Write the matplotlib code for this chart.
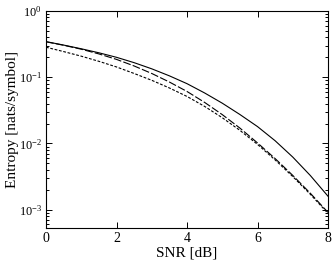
import matplotlib
matplotlib.use("Agg")
import matplotlib.pyplot as plt
from matplotlib.ticker import LogLocator, NullFormatter

snr_db = [0, 0.5, 1, 1.5, 2, 2.5, 3, 3.5, 4, 4.5, 5, 5.5, 6, 6.5, 7, 7.5, 8]
entropy_solid = [0.345, 0.306, 0.269, 0.234, 0.200, 0.166, 0.134, 0.105, 0.080,
                 0.0579, 0.0406, 0.0274, 0.0180, 0.0110, 0.00624, 0.00328, 0.0016]
entropy_longdash = [0.343, 0.304, 0.265, 0.225, 0.186, 0.148, 0.114, 0.0847, 0.061,
                    0.0417, 0.0273, 0.0171, 0.0102, 0.00592, 0.0033, 0.00177, 0.000912]
entropy_shortdash = [0.284, 0.244, 0.208, 0.174, 0.143, 0.114, 0.0899, 0.0689, 0.0513,
                     0.0363, 0.0245, 0.0158, 0.0097, 0.00565, 0.00317, 0.00171, 0.00088]
x_ticks = [0, 2, 4, 6, 8]

plt.rcParams['font.family'] = ['Liberation Serif', 'DejaVu Serif']
plt.rcParams['mathtext.fontset'] = 'stix'

fig = plt.figure(figsize=(3.32, 2.65), dpi=100)
ax = fig.add_axes([46/332, 1-228/265, (328-46)/332, (228-11)/265])

ax.semilogy(snr_db, entropy_solid, color='black', lw=0.8, ls='-')
ax.semilogy(snr_db, entropy_longdash, color='black', lw=0.8, dashes=(7, 2))
ax.semilogy(snr_db, entropy_shortdash, color='black', lw=0.8, dashes=(2.5, 1.5))

ax.set_xlim(0, 8)
ax.set_ylim(5.3e-4, 1)
ax.set_xticks(x_ticks)
ax.set_xticklabels([str(t) for t in x_ticks])
ax.yaxis.set_major_locator(LogLocator(base=10, numticks=10))
ax.yaxis.set_minor_locator(LogLocator(base=10, subs=range(2, 10), numticks=10))
ax.yaxis.set_minor_formatter(NullFormatter())

ax.tick_params(which='both', direction='in', top=True, right=True, width=0.7)
ax.tick_params(axis='x', labelsize=10)
ax.tick_params(axis='y', labelsize=8.8)
ax.tick_params(which='major', length=4, pad=3)
ax.tick_params(which='minor', length=2)
for s in ax.spines.values():
    s.set_linewidth(0.8)

ax.set_xlabel('SNR [dB]', fontsize=11, labelpad=1)
ax.set_ylabel('Entropy [nats/symbol]', fontsize=11)
ax.yaxis.set_label_coords(-0.095, 0.5)

fig.savefig('out.png', dpi=100)
